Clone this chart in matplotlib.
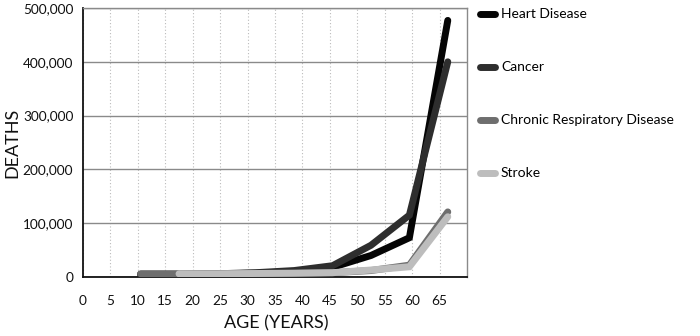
import matplotlib
matplotlib.use('Agg')
import matplotlib.pyplot as plt
from matplotlib.lines import Line2D
from matplotlib.ticker import FuncFormatter

# age points (years) and deaths per cause
ages = [10.5, 17.5, 24.5, 31.5, 38.5, 45.5, 52.5, 59.5, 66.5]
heart_disease = [5000, 5000, 6000, 7000, 10000, 18000, 40000, 73000, 477000]
cancer = [5000, 5000, 6000, 8000, 12000, 21000, 59000, 115000, 400000]
chronic_resp = [6000, 6000, 6000, 6500, 7000, 8000, 12000, 22000, 121000]
stroke_ages = ages[1:]
stroke = [6000, 6000, 6500, 7000, 8000, 13000, 19000, 112000]

labels = ['Heart Disease', 'Cancer', 'Chronic Respiratory Disease', 'Stroke']
colors = ['#050505', '#2e2e2e', '#6e6e6e', '#bdbdbd']
x_ticks = list(range(0, 70, 5))
y_ticks = [0, 100000, 200000, 300000, 400000, 500000]

plt.rcParams['font.family'] = ['Lato', 'DejaVu Sans']

fig = plt.figure(figsize=(7, 3.36), dpi=100)
ax = fig.add_axes([0.1186, 0.1756, 0.5485, 0.8005])

series = [
    (ages, heart_disease),
    (ages, cancer),
    (ages, chronic_resp),
    (stroke_ages, stroke),
]
for (xs, ys), color, label in zip(series, colors, labels):
    ax.plot(xs, ys, color=color, linewidth=5, solid_capstyle='round',
            solid_joinstyle='miter', label=label, zorder=3)

ax.set_xlim(0, 70)
ax.set_ylim(0, 500000)
ax.set_xticks(x_ticks)
ax.set_yticks(y_ticks)
ax.yaxis.set_major_formatter(FuncFormatter(lambda v, _: f'{int(v):,}'))
ax.tick_params(length=0, labelsize=9.8, colors='#111111')
ax.tick_params(axis='x', pad=13)
ax.tick_params(axis='y', pad=7)

ax.yaxis.grid(True, color='#8a8a8a', linewidth=1.0, zorder=1)
ax.xaxis.grid(True, color='#bbbbbb', linewidth=0.8, linestyle=(0, (1, 2)), zorder=1)
ax.set_axisbelow(True)

for side in ('top', 'right'):
    ax.spines[side].set_color('#8a8a8a')
    ax.spines[side].set_linewidth(1.0)
for side in ('left', 'bottom'):
    ax.spines[side].set_color('#111111')
    ax.spines[side].set_linewidth(1.3)

# axis titles placed in figure coordinates so they stay inside the canvas
fig.text(0.394, 0.038, 'AGE (YEARS)', fontsize=13, color='#111111',
         ha='center', va='center')
fig.text(0.017, 0.574, 'DEATHS', fontsize=13, color='#111111',
         ha='center', va='center', rotation=90)

handles = [Line2D([0], [0], color=c, linewidth=5, solid_capstyle='round') for c in colors]
fig.legend(handles, labels, loc='upper left', bbox_to_anchor=(0.668, 1.012),
           frameon=False, fontsize=10, handlelength=1.05, handletextpad=0.45,
           labelspacing=2.95)

fig.savefig('out.png', dpi=100)
